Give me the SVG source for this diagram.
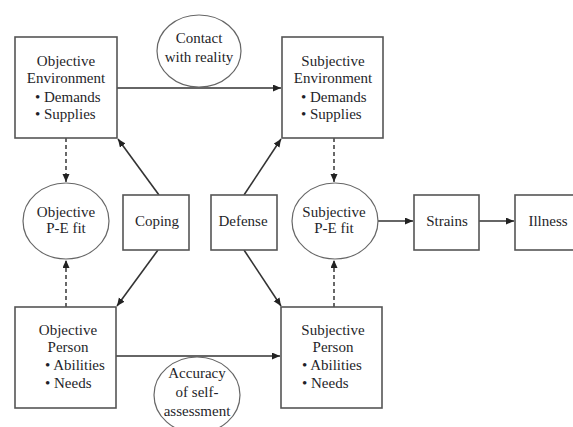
<svg xmlns="http://www.w3.org/2000/svg" width="573" height="427" viewBox="0 0 573 427">
  <style>
    .box { fill: #ffffff; stroke: #555555; stroke-width: 1.6; }
    .oval { fill: #ffffff; stroke: #666666; stroke-width: 1.2; }
    .lbl { font-family: "Liberation Serif", "Times New Roman", serif; font-size: 15px; fill: #1f1f2a; }
    .c { text-anchor: middle; }
    .link { fill: none; stroke: #333333; stroke-width: 1.6; }
    .dash { fill: none; stroke: #444444; stroke-width: 1.6; stroke-dasharray: 4 3; }
  </style>
  <defs>
    <marker id="head" markerUnits="userSpaceOnUse" markerWidth="9" markerHeight="8" refX="8" refY="3.5" orient="auto">
      <path d="M0,0 L8,3.5 L0,7 z" fill="#222222"/>
    </marker>
  </defs>
  <rect width="573" height="427" fill="#ffffff"/>

  <!-- connectors -->
  <g id="connectors">
    <line class="link" x1="117" y1="88" x2="281" y2="88" marker-end="url(#head)"/>
    <line class="link" x1="116" y1="356" x2="280" y2="356" marker-end="url(#head)"/>
    <line class="link" x1="159" y1="195" x2="118" y2="139" marker-end="url(#head)"/>
    <line class="link" x1="244" y1="195" x2="281" y2="139" marker-end="url(#head)"/>
    <line class="link" x1="158" y1="250" x2="117" y2="306" marker-end="url(#head)"/>
    <line class="link" x1="244" y1="250" x2="281" y2="306" marker-end="url(#head)"/>
    <line class="dash" x1="66" y1="138" x2="66" y2="182" marker-end="url(#head)"/>
    <line class="dash" x1="66" y1="307" x2="66" y2="260" marker-end="url(#head)"/>
    <line class="dash" x1="334" y1="138" x2="334" y2="182" marker-end="url(#head)"/>
    <line class="dash" x1="334" y1="307" x2="334" y2="260" marker-end="url(#head)"/>
    <line class="link" x1="378" y1="221" x2="413" y2="221" marker-end="url(#head)"/>
    <line class="link" x1="479" y1="221" x2="514" y2="221" marker-end="url(#head)"/>
  </g>

  <g id="contact">
    <ellipse class="oval" cx="199" cy="51" rx="42" ry="36"/>
    <text class="lbl c" x="199" y="43">Contact</text>
    <text class="lbl c" x="199" y="62">with reality</text>
  </g>

  <g id="objective-environment">
    <rect class="box" x="15" y="37" width="102" height="101"/>
    <text class="lbl c" x="66" y="66">Objective</text>
    <text class="lbl c" x="66" y="83">Environment</text>
    <text class="lbl" x="35" y="102">• Demands</text>
    <text class="lbl" x="35" y="119">• Supplies</text>
  </g>

  <g id="subjective-environment">
    <rect class="box" x="282" y="37" width="101" height="101"/>
    <text class="lbl c" x="333" y="66">Subjective</text>
    <text class="lbl c" x="333" y="83">Environment</text>
    <text class="lbl" x="301" y="102">• Demands</text>
    <text class="lbl" x="301" y="119">• Supplies</text>
  </g>

  <g id="objective-fit">
    <ellipse class="oval" cx="66" cy="221" rx="43" ry="38"/>
    <text class="lbl c" x="66" y="217">Objective</text>
    <text class="lbl c" x="66" y="233">P-E fit</text>
  </g>

  <g id="coping">
    <rect class="box" x="123" y="195" width="66" height="55"/>
    <text class="lbl c" x="157" y="226">Coping</text>
  </g>

  <g id="defense">
    <rect class="box" x="211" y="195" width="66" height="55"/>
    <text class="lbl c" x="243" y="226">Defense</text>
  </g>

  <g id="subjective-fit">
    <ellipse class="oval" cx="335" cy="221" rx="43" ry="38"/>
    <text class="lbl c" x="334" y="217">Subjective</text>
    <text class="lbl c" x="334" y="233">P-E fit</text>
  </g>

  <g id="strains">
    <rect class="box" x="414" y="195" width="65" height="55"/>
    <text class="lbl c" x="447" y="226">Strains</text>
  </g>

  <g id="illness">
    <rect class="box" x="515" y="195" width="66" height="55"/>
    <text class="lbl c" x="548" y="226">Illness</text>
  </g>

  <g id="objective-person">
    <rect class="box" x="15" y="307" width="101" height="101"/>
    <text class="lbl c" x="68" y="335">Objective</text>
    <text class="lbl c" x="68" y="352">Person</text>
    <text class="lbl" x="45" y="370">• Abilities</text>
    <text class="lbl" x="45" y="388">• Needs</text>
  </g>

  <g id="subjective-person">
    <rect class="box" x="281" y="307" width="101" height="101"/>
    <text class="lbl c" x="333" y="335">Subjective</text>
    <text class="lbl c" x="333" y="352">Person</text>
    <text class="lbl" x="302" y="370">• Abilities</text>
    <text class="lbl" x="302" y="388">• Needs</text>
  </g>

  <g id="accuracy">
    <ellipse class="oval" cx="197" cy="395" rx="43" ry="38"/>
    <text class="lbl c" x="197" y="378">Accuracy</text>
    <text class="lbl c" x="197" y="397">of self-</text>
    <text class="lbl c" x="197" y="416">assessment</text>
  </g>
</svg>
